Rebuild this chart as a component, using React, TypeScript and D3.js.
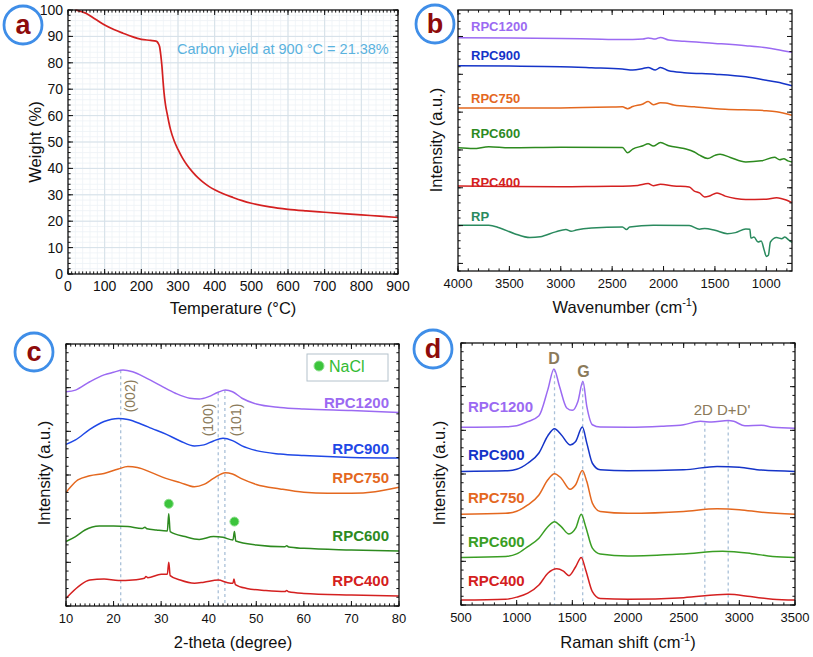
import React from 'react';
import * as d3 from 'd3';

type Pt = [number, number];

const FONT = "'Liberation Sans', Arial, Helvetica, sans-serif";

// ---------- (a) TGA ----------
const tgaWeight: Pt[] = [
  [20, 100], [50, 98.7], [75, 96.5], [100, 94.3], [125, 92.6], [150, 91.2], [175, 89.9],
  [200, 88.9], [225, 88.5], [240, 88.2], [246, 87.4], [250, 86], [253, 83], [256, 79],
  [259, 73.5], [262, 68.5], [266, 64], [270, 61], [275, 57.5], [280, 54.5], [290, 50.3],
  [300, 47.2], [312, 44], [325, 41.2], [340, 38.6], [355, 36.4], [370, 34.6], [385, 33.1],
  [400, 31.9], [425, 30.3], [450, 29], [475, 27.8], [500, 26.8], [550, 25.4], [600, 24.5],
  [650, 23.9], [700, 23.4], [750, 22.9], [800, 22.4], [850, 21.9], [900, 21.4],
];

// ---------- (b) FTIR ----------
const ftir1200: Pt[] = [
  [4000, 89.4], [3500, 89.3], [3000, 89.1], [2700, 88.9], [2400, 88.7], [2200, 88.9], [2150, 89.3],
  [2080, 88.9], [2030, 89.5], [1950, 88.5], [1800, 88], [1500, 87.2], [1200, 86.3], [1000, 85.5],
  [900, 84.9], [750, 83.8],
];
const ftir900: Pt[] = [
  [4000, 78.6], [3500, 78.5], [3000, 78.3], [2700, 77.9], [2400, 77.4], [2300, 77.0], [2200, 77.6],
  [2150, 78.0], [2080, 77.0], [2030, 78.0], [1950, 76.7], [1800, 76], [1500, 75.4], [1200, 74.4],
  [1000, 73.1], [900, 72.4], [750, 71],
];
const ftir750: Pt[] = [
  [4000, 62.5], [3500, 62.5], [3000, 62.5], [2500, 62.8], [2400, 62.9], [2350, 62.2], [2300, 63.0],
  [2200, 64.0], [2150, 64.9], [2100, 63.7], [2030, 64.5], [1980, 64.4], [1900, 63.6], [1700, 62.9],
  [1400, 62.0], [1000, 61.4], [900, 61.0], [750, 59.7],
];
const ftir600: Pt[] = [
  [4000, 47.2], [3850, 46.9], [3700, 47.6], [3500, 47.2], [3000, 47.4], [2400, 47.3], [2350, 45.3],
  [2300, 46.7], [2200, 48.0], [2150, 48.8], [2100, 47.9], [2030, 49.2], [1950, 48.0], [1800, 46.9],
  [1700, 45.6], [1650, 44.4], [1570, 43.1], [1500, 44.3], [1450, 44.7], [1350, 43.5], [1200, 41.8],
  [1050, 42.2], [920, 43.6], [870, 42.6], [830, 43.0], [790, 42.2], [750, 41.8],
];
const ftir400: Pt[] = [
  [4000, 32.6], [3500, 32.4], [3000, 32.3], [2500, 32.5], [2400, 32.5], [2250, 32.8], [2150, 33.5],
  [2100, 32.7], [2030, 33.2], [1900, 32.6], [1750, 32.2], [1700, 30.6], [1650, 29.9], [1600, 28.4],
  [1560, 28.6], [1480, 29.9], [1400, 28.7], [1300, 27.8], [1200, 27.4], [1000, 27.5], [900, 28.1],
  [800, 27.1], [750, 26.2],
];
const ftirRP: Pt[] = [
  [4000, 17.5], [3700, 17.5], [3600, 16.6], [3450, 14.3], [3300, 12.8], [3200, 13.1], [3050, 15.0],
  [2950, 15.9], [2900, 15.2], [2850, 15.7], [2700, 16.5], [2400, 16.9], [2360, 15.9], [2330, 16.9],
  [2100, 17.5], [1750, 17.4], [1650, 16.0], [1600, 16.3], [1500, 15.6], [1380, 14.3], [1300, 14.7],
  [1200, 16.1], [1160, 16.0], [1150, 12.6], [1120, 13.0], [1080, 11.1], [1050, 11.5], [1020, 7.9],
  [1000, 5.6], [980, 6.0], [960, 11.1], [900, 12.8], [850, 12.4], [820, 13.0], [780, 11.8], [750, 11.0],
];

// ---------- (c) XRD ----------
const xrd1200: Pt[] = [
  [10, 81.8], [12, 82.4], [15, 85.6], [18, 88.2], [20, 89.2], [22, 90.1], [24, 89.4], [27, 86.9],
  [30, 84], [33, 81.2], [36, 79.3], [38, 79], [40, 79.9], [42, 81.6], [43.5, 82.4], [45, 81.8],
  [47, 79.3], [50, 77.1], [55, 75.8], [60, 75.2], [70, 74.6], [80, 73.9],
];
const xrd900: Pt[] = [
  [10, 61.7], [12, 63.4], [15, 67.4], [18, 70.4], [21, 71.6], [23, 71.2], [26, 69.3], [28, 67.8],
  [31, 65.6], [34, 63], [37, 61.1], [39, 61.5], [41, 63], [43, 64], [45, 63.1], [47, 61.1],
  [50, 59.3], [55, 58], [60, 57.4], [70, 56.7], [80, 56.5],
];
const xrd750: Pt[] = [
  [10, 43.3], [11, 45.5], [12.5, 48.1], [15, 49.7], [18, 50.6], [21, 52.3], [23, 53.2], [25, 52.9],
  [28, 50.9], [31, 48.7], [34, 47.1], [37, 45.5], [39, 46.4], [41, 48.7], [43.5, 50.9], [45, 50.4],
  [47, 48.5], [50, 46.4], [55, 44.7], [60, 43.4], [65, 43], [70, 43], [75, 43.6], [80, 45.3],
];
const xrd600: Pt[] = [
  [10, 24.6], [12, 26.5], [14, 29], [17, 30.5], [20, 30.5], [23, 30.3], [26, 29.6], [26.6, 30.1],
  [27, 29.5], [29, 29], [31.3, 28.6], [31.6, 35.2], [31.9, 28.4], [35, 26.5], [38, 25.4], [41, 26.5],
  [43, 26.2], [45.1, 25.2], [45.4, 28.4], [45.7, 24.8], [50, 23.3], [56, 22.6], [56.4, 23.0],
  [56.8, 22.5], [60, 22], [70, 21.4], [80, 21],
];
const xrd400: Pt[] = [
  [10, 2.9], [11, 4.8], [13, 8], [15, 9.9], [18, 10.3], [21, 9.7], [24, 9.9], [26.5, 10.6],
  [26.8, 11.3], [27.2, 10.8], [30, 12.1], [31.3, 12.1], [31.6, 16.7], [31.9, 11.6], [34, 9.9],
  [37, 8.7], [39, 9.1], [42, 9.9], [44, 8.9], [45.1, 8.7], [45.3, 10.3], [45.6, 8.2], [48, 6.7],
  [52, 5.9], [56, 5.5], [56.4, 5.9], [56.8, 5.4], [60, 4.8], [70, 4.2], [80, 3.8],
];
const xrdRefs = [
  { x: 21.5, top: 90 },
  { x: 42.0, top: 81.6 },
  { x: 43.4, top: 82.4 },
];
const naclPeaks: Pt[] = [[31.6, 35.2], [45.4, 28.4]];

// ---------- (d) Raman ----------
const raman1200: Pt[] = [
  [500, 67.8], [900, 68], [1000, 68.4], [1100, 70], [1200, 72.2], [1280, 82.2], [1335, 90.1],
  [1385, 83.4], [1450, 75.2], [1500, 74.3], [1550, 77.7], [1595, 85.4], [1630, 75.8], [1680, 68.8],
  [1750, 67.9], [2000, 67.8], [2300, 68.2], [2500, 68.8], [2650, 70.1], [2750, 69.8], [2900, 70.4],
  [2950, 70.1], [3050, 68.4], [3200, 68.6], [3300, 67.8], [3500, 67.5],
];
const raman900: Pt[] = [
  [500, 51], [900, 51.2], [1000, 51.8], [1100, 54.1], [1200, 58], [1280, 64.6], [1340, 67.3],
  [1400, 65], [1480, 61.1], [1530, 62.4], [1590, 67.9], [1630, 61.8], [1680, 54.1], [1750, 51.6],
  [2000, 51.2], [2500, 51.6], [2800, 52.9], [3000, 52.6], [3200, 51.5], [3500, 51],
];
const raman750: Pt[] = [
  [500, 34.6], [900, 35], [1000, 35.8], [1100, 38.2], [1200, 42], [1280, 47.8], [1340, 50.1],
  [1400, 48.4], [1480, 44.2], [1530, 45.9], [1590, 51.3], [1630, 47.1], [1680, 38.9], [1750, 35.7],
  [2000, 35], [2500, 35.7], [2800, 36.7], [3000, 36.4], [3200, 35.4], [3500, 34.6],
];
const raman600: Pt[] = [
  [500, 18.1], [900, 18.5], [1000, 19.5], [1100, 22.3], [1200, 25.5], [1280, 29.9], [1340, 31.8],
  [1400, 29.9], [1470, 27.1], [1530, 29.3], [1580, 34.6], [1620, 29.9], [1680, 21.7], [1750, 19.5],
  [2000, 18.7], [2500, 19.5], [2850, 20.5], [3100, 19.7], [3300, 18.5], [3500, 18.1],
];
const raman400: Pt[] = [
  [500, 1.9], [900, 2.2], [1000, 3], [1100, 4.5], [1200, 7.6], [1280, 12.1], [1360, 13.8],
  [1420, 12.9], [1470, 11.2], [1530, 14.6], [1580, 18.1], [1620, 13.4], [1680, 5.1], [1750, 2.5],
  [2000, 2.2], [2500, 2.8], [2900, 4.1], [3100, 3.2], [3300, 2.2], [3500, 1.9],
];
const ramanRefs = [
  { x: 1340, top: 90 },
  { x: 1593, top: 85 },
  { x: 2690, top: 69.6 },
  { x: 2900, top: 70.4 },
];

const C = {
  purple: '#9b6af2',
  blue: '#1534c8',
  blue2: '#1f48e6',
  orange: '#e4681f',
  green: '#2d8a1f',
  green2: '#3a9e24',
  red: '#d42020',
  teal: '#2a8a5e',
  ann: '#8b7a5a',
  dash: '#a9c0d8',
  badge: '#3f8ee8',
  letter: '#8e0b0b',
};

const ftirSeries = [
  { name: 'RPC1200', color: C.purple, data: ftir1200, labelY: 91.9 },
  { name: 'RPC900', color: C.blue, data: ftir900, labelY: 80.8 },
  { name: 'RPC750', color: C.orange, data: ftir750, labelY: 64.5 },
  { name: 'RPC600', color: C.green, data: ftir600, labelY: 51.1 },
  { name: 'RPC400', color: C.red, data: ftir400, labelY: 32 },
  { name: 'RP', color: C.teal, data: ftirRP, labelY: 19.3 },
];
const xrdSeries = [
  { name: 'RPC1200', color: C.purple, data: xrd1200, labelY: 75.5 },
  { name: 'RPC900', color: C.blue2, data: xrd900, labelY: 58 },
  { name: 'RPC750', color: C.orange, data: xrd750, labelY: 47 },
  { name: 'RPC600', color: C.green, data: xrd600, labelY: 25 },
  { name: 'RPC400', color: C.red, data: xrd400, labelY: 7.6 },
];
const ramanSeries = [
  { name: 'RPC1200', color: C.purple, data: raman1200, labelY: 73.6 },
  { name: 'RPC900', color: C.blue, data: raman900, labelY: 55.3 },
  { name: 'RPC750', color: C.orange, data: raman750, labelY: 38.9 },
  { name: 'RPC600', color: C.green2, data: raman600, labelY: 22.2 },
  { name: 'RPC400', color: C.red, data: raman400, labelY: 7.4 },
];

type Lin = d3.ScaleLinear<number, number>;

function Axes({ x, yt, xMajor, xMinor, yMajor, yMinor, yLabels, fs }: {
  x: Lin; yt: Lin; xMajor: number[]; xMinor: number[]; yMajor: number[]; yMinor: number[];
  yLabels?: boolean; fs: number;
}) {
  const [l, r] = x.range();
  const [b, t] = yt.range();
  const M = 5, m = 2.6;
  return (
    <g>
      <g stroke="#111" strokeWidth={1}>
        {xMinor.map((v) => (
          <g key={'xm' + v}>
            <line x1={x(v)} x2={x(v)} y1={b} y2={b - m} />
            <line x1={x(v)} x2={x(v)} y1={t} y2={t + m} />
          </g>
        ))}
        {xMajor.map((v) => (
          <g key={'xM' + v}>
            <line x1={x(v)} x2={x(v)} y1={b} y2={b - M} />
            <line x1={x(v)} x2={x(v)} y1={t} y2={t + M} />
          </g>
        ))}
        {yMinor.map((v) => (
          <g key={'ym' + v}>
            <line x1={l} x2={l + m} y1={yt(v)} y2={yt(v)} />
            <line x1={r} x2={r - m} y1={yt(v)} y2={yt(v)} />
          </g>
        ))}
        {yMajor.map((v) => (
          <g key={'yM' + v}>
            <line x1={l} x2={l + M} y1={yt(v)} y2={yt(v)} />
            <line x1={r} x2={r - M} y1={yt(v)} y2={yt(v)} />
          </g>
        ))}
      </g>
      <rect x={l} y={t} width={r - l} height={b - t} fill="none" stroke="#111" strokeWidth={1.3} />
      <g fontSize={fs} fill="#111" textAnchor="middle">
        {xMajor.map((v) => (
          <text key={'xl' + v} x={x(v)} y={b + 17}>{v}</text>
        ))}
      </g>
      {yLabels && (
        <g fontSize={fs} fill="#111" textAnchor="end">
          {yMajor.map((v) => (
            <text key={'yl' + v} x={l - 5} y={yt(v)} dy="0.35em">{v}</text>
          ))}
        </g>
      )}
    </g>
  );
}

function Badge({ cx, cy, letter }: { cx: number; cy: number; letter: string }) {
  return (
    <g>
      <circle cx={cx} cy={cy} r={19} fill="#fff" stroke={C.badge} strokeWidth={2.8} />
      <text x={cx} y={cy} dy="0.33em" textAnchor="middle" fontSize={27} fontWeight="bold" fill={C.letter}>
        {letter}
      </text>
    </g>
  );
}

function Curve({ data, x, y, color, w = 1.5 }: { data: Pt[]; x: Lin; y: Lin; color: string; w?: number }) {
  const line = d3.line<Pt>().x((d) => x(d[0])).y((d) => y(d[1])).curve(d3.curveMonotoneX);
  return <path d={line(data) ?? ''} fill="none" stroke={color} strokeWidth={w} strokeLinejoin="round" />;
}

function PanelA() {
  const x = d3.scaleLinear().domain([0, 900]).range([68, 398]);
  const y = d3.scaleLinear().domain([0, 100]).range([274, 10]);
  return (
    <g>
      <g stroke="#eef3f6" strokeWidth={0.8}>
        {d3.range(0, 901, 20).map((v) => <line key={'gm' + v} x1={x(v)} x2={x(v)} y1={y(0)} y2={y(100)} />)}
        {d3.range(0, 101, 2).map((v) => <line key={'hm' + v} x1={x(0)} x2={x(900)} y1={y(v)} y2={y(v)} />)}
      </g>
      <g stroke="#d5e0e8" strokeWidth={1}>
        {d3.range(100, 900, 100).map((v) => <line key={'g' + v} x1={x(v)} x2={x(v)} y1={y(0)} y2={y(100)} />)}
        {d3.range(10, 100, 10).map((v) => <line key={'h' + v} x1={x(0)} x2={x(900)} y1={y(v)} y2={y(v)} />)}
      </g>
      <Curve data={tgaWeight} x={x} y={y} color={C.red} w={1.7} />
      <Axes x={x} yt={y} xMajor={d3.range(0, 901, 100)} xMinor={d3.range(0, 901, 10)}
        yMajor={d3.range(0, 101, 10)} yMinor={d3.range(0, 101, 2)} yLabels fs={14} />
      <text x={177} y={54} fontSize={14.5} fill="#5ab2de">Carbon yield at 900 °C = 21.38%</text>
      <text x={233} y={314} textAnchor="middle" fontSize={16.5} fill="#111">Temperature (°C)</text>
      <text transform="translate(41,142) rotate(-90)" textAnchor="middle" fontSize={16.5} fill="#111">Weight (%)</text>
      <Badge cx={23} cy={25} letter="a" />
    </g>
  );
}

function CmLabel({ x, y, label }: { x: number; y: number; label: string }) {
  return (
    <text x={x} y={y} textAnchor="middle" fontSize={16.5} fill="#111">
      {label} (cm<tspan fontSize={11} dy={-7}>-1</tspan><tspan dy={7}>)</tspan>
    </text>
  );
}

function PanelB() {
  const x = d3.scaleLinear().domain([4000, 750]).range([458, 792]);
  const y = d3.scaleLinear().domain([0, 100]).range([271, 10]);
  const yt = d3.scaleLinear().domain([-0.2, 6.7]).range([271, 10]);
  return (
    <g>
      {ftirSeries.map((s) => <Curve key={s.name} data={s.data} x={x} y={y} color={s.color} w={1.5} />)}
      <Axes x={x} yt={yt} xMajor={d3.range(1000, 4001, 500)} xMinor={d3.range(800, 4001, 100)}
        yMajor={d3.range(0, 7, 1)} yMinor={d3.range(-0.2, 6.7, 0.2).map((v) => +v.toFixed(1))} fs={13} />
      <g fontSize={13} fontWeight="bold">
        {ftirSeries.map((s) => (
          <text key={s.name} x={x(4000) + 13} y={y(s.labelY)} fill={s.color}>{s.name}</text>
        ))}
      </g>
      <CmLabel x={625} y={313} label="Wavenumber" />
      <text transform="translate(442,140) rotate(-90)" textAnchor="middle" fontSize={16.5} fill="#111">Intensity (a.u.)</text>
      <Badge cx={435} cy={24} letter="b" />
    </g>
  );
}

function PanelC() {
  const x = d3.scaleLinear().domain([10, 80]).range([66, 399]);
  const y = d3.scaleLinear().domain([0, 100]).range([606, 344]);
  const yt = d3.scaleLinear().domain([0, 6]).range([606, 344]);
  return (
    <g>
      <g stroke={C.dash} strokeWidth={1.3} strokeDasharray="3,3">
        {xrdRefs.map((r) => <line key={r.x} x1={x(r.x)} x2={x(r.x)} y1={y(r.top)} y2={y(0)} />)}
      </g>
      {xrdSeries.map((s) => <Curve key={s.name} data={s.data} x={x} y={y} color={s.color} w={1.5} />)}
      <g fill="#3cc43c" stroke="#8fe08f" strokeWidth={1}>
        {naclPeaks.map((p) => <circle key={p[0]} cx={x(p[0])} cy={y(p[1]) - 10} r={4.5} />)}
      </g>
      <Axes x={x} yt={yt} xMajor={d3.range(10, 81, 10)} xMinor={d3.range(10, 81, 1)}
        yMajor={d3.range(0, 7, 1)} yMinor={d3.range(0, 6.01, 0.2).map((v) => +v.toFixed(1))} fs={13} />
      <g fontSize={15} fontWeight="bold" textAnchor="end">
        {xrdSeries.map((s) => (
          <text key={s.name} x={x(80) - 10} y={y(s.labelY)} fill={s.color}>{s.name}</text>
        ))}
      </g>
      <g fontSize={14} fill={C.ann} textAnchor="middle">
        <text transform={`translate(${x(21.5) + 9},396) rotate(-90)`} dy="0.35em">(002)</text>
        <text transform={`translate(${x(42.0) - 10},420) rotate(-90)`} dy="0.35em">(100)</text>
        <text transform={`translate(${x(43.4) + 11},420) rotate(-90)`} dy="0.35em">(101)</text>
      </g>
      <rect x={307} y={354} width={81} height={27} fill="#fff" stroke="#b4c2cc" strokeWidth={1} />
      <circle cx={319} cy={366} r={5} fill="#3cc43c" stroke="#8fe08f" strokeWidth={1} />
      <text x={329} y={372} fontSize={16} fill="#33bb33">NaCl</text>
      <text x={233} y={648} textAnchor="middle" fontSize={16.5} fill="#111">2-theta (degree)</text>
      <text transform="translate(50,473) rotate(-90)" textAnchor="middle" fontSize={16.5} fill="#111">Intensity (a.u.)</text>
      <Badge cx={34} cy={352} letter="c" />
    </g>
  );
}

function PanelD() {
  const x = d3.scaleLinear().domain([500, 3500]).range([461, 795]);
  const y = d3.scaleLinear().domain([0, 100]).range([605, 343]);
  const yt = d3.scaleLinear().domain([0, 6]).range([605, 343]);
  return (
    <g>
      <g stroke={C.dash} strokeWidth={1.3} strokeDasharray="3,3">
        {ramanRefs.map((r) => <line key={r.x} x1={x(r.x)} x2={x(r.x)} y1={y(r.top)} y2={y(0)} />)}
      </g>
      {ramanSeries.map((s) => <Curve key={s.name} data={s.data} x={x} y={y} color={s.color} w={1.5} />)}
      <Axes x={x} yt={yt} xMajor={d3.range(500, 3501, 500)} xMinor={d3.range(500, 3501, 100)}
        yMajor={d3.range(0, 7, 1)} yMinor={d3.range(0, 6.01, 0.2).map((v) => +v.toFixed(1))} fs={13} />
      <g fontSize={15} fontWeight="bold">
        {ramanSeries.map((s) => (
          <text key={s.name} x={x(500) + 7} y={y(s.labelY)} fill={s.color}>{s.name}</text>
        ))}
      </g>
      <g fill={C.ann} fontWeight="bold" textAnchor="middle">
        <text x={x(1335)} y={364} fontSize={16}>D</text>
        <text x={x(1600)} y={377} fontSize={16}>G</text>
        <text x={722} y={415} fontSize={15} fontWeight="normal">2D D+D'</text>
      </g>
      <CmLabel x={628} y={648} label="Raman shift" />
      <text transform="translate(445,473) rotate(-90)" textAnchor="middle" fontSize={16.5} fill="#111">Intensity (a.u.)</text>
      <Badge cx={433} cy={349} letter="d" />
    </g>
  );
}

export default function App() {
  return (
    <svg width={813} height={657} viewBox="0 0 813 657"
      style={{ position: 'absolute', left: 0, top: 0, background: '#fff', fontFamily: FONT }}>
      <rect width={813} height={657} fill="#fff" />
      <PanelA />
      <PanelB />
      <PanelC />
      <PanelD />
    </svg>
  );
}
